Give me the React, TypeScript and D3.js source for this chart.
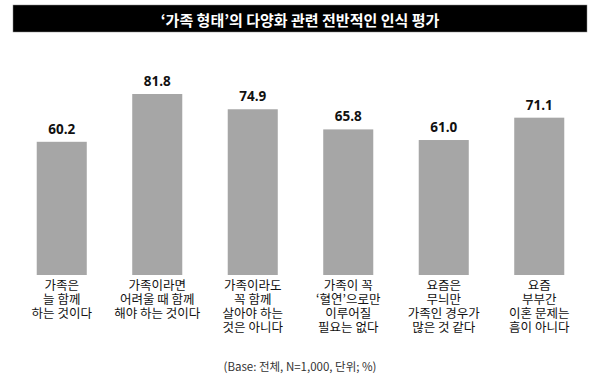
import React from "react";
import * as d3 from "d3";

const title = "‘가족 형태’의 다양화 관련 전반적인 인식 평가";
const categories: string[][] = [
  ["가족은", "늘 함께", "하는 것이다"],
  ["가족이라면", "어려울 때 함께", "해야 하는 것이다"],
  ["가족이라도", "꼭 함께", "살아야 하는", "것은 아니다"],
  ["가족이 꼭", "‘혈연’으로만", "이루어질", "필요는 없다"],
  ["요즘은", "무늬만", "가족인 경우가", "많은 것 같다"],
  ["요즘", "부부간", "이혼 문제는", "흠이 아니다"],
];
const values = [60.2, 81.8, 74.9, 65.8, 61.0, 71.1];
const footnote = "(Base: 전체, N=1,000, 단위; %)";

const W = 600;
const H = 384;
const FONT = "'Noto Sans CJK KR', 'Noto Sans', sans-serif";

export default function App() {
  const idx = values.map((_, i) => String(i));
  const x = d3.scaleBand<string>().domain(idx).range([14, 587]).paddingInner(0.476).paddingOuter(0.238);
  const y = d3.scaleLinear().domain([0, 81.8]).range([275, 94]);
  return (
    <svg width={W} height={H} style={{ position: "absolute", left: 0, top: 0, background: "#fff" }}>
      <rect x={13} y={5} width={574} height={27} fill="#000" stroke="#888" strokeWidth={0.5} />
      <text x={300} y={19} textAnchor="middle" dominantBaseline="central" fill="#fff" fontFamily={FONT} fontWeight={700} fontSize={15}>
        {title}
      </text>
      {values.map((v, i) => {
        const bx = x(String(i))!;
        const bw = x.bandwidth();
        const cx = bx + bw / 2;
        return (
          <g key={i}>
            <rect x={bx} y={y(v)} width={bw} height={y(0) - y(v)} fill="#a6a6a6" />
            <text x={cx} y={y(v) - 8} textAnchor="middle" fill="#111" fontFamily="'Open Sans', sans-serif" fontWeight={700} fontSize={13.5}>
              {v.toFixed(1)}
            </text>
            <text x={cx} y={289.5} textAnchor="middle" fill="#111" fontFamily={FONT} fontSize={12.5}>
              {categories[i].map((line, j) => (
                <tspan key={j} x={cx} dy={j === 0 ? 0 : 14.2}>
                  {line}
                </tspan>
              ))}
            </text>
          </g>
        );
      })}
      <text x={300} y={366} textAnchor="middle" dominantBaseline="central" fill="#333" fontFamily={FONT} fontSize={11.5}>
        {footnote}
      </text>
    </svg>
  );
}
